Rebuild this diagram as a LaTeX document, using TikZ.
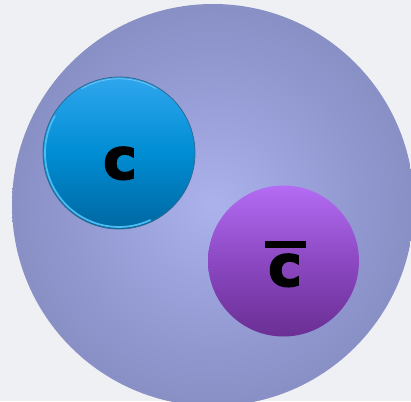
\documentclass[tikz,border=0pt]{standalone}
\usepackage{fontspec}
\newfontfamily\qfont{DejaVu Sans Bold}[FakeBold=2.5]
\usetikzlibrary{calc}
\definecolor{bgcol}{HTML}{EEF0F3}
\definecolor{mesonin}{HTML}{ABB2EC}
\definecolor{mesonmid}{HTML}{9198D0}
\definecolor{mesonout}{HTML}{7B82B3}
\definecolor{bluetop}{HTML}{2FA6EE}
\definecolor{bluemid}{HTML}{008DD3}
\definecolor{bluebot}{HTML}{0067A2}
\definecolor{bluerim}{HTML}{4CBDF2}
\definecolor{blueedge}{HTML}{2E6A94}
\definecolor{purptop}{HTML}{B36CF3}
\definecolor{purpmid}{HTML}{8C48C2}
\definecolor{purpbot}{HTML}{6A2F94}
\pgfdeclareradialshading{mesonglow}{\pgfpoint{0bp}{0bp}}{color(0bp)=(mesonin); color(18bp)=(mesonmid); color(36bp)=(mesonout); color(50bp)=(mesonout)}
\tikzset{
  ball/.style={circle, inner sep=0pt, outer sep=0pt, draw=none},
  qlabel/.style={font=\qfont\fontsize{43}{43}\selectfont, text=black, inner sep=0pt, anchor=base},
}
\begin{document}
\begin{tikzpicture}[x=0.75pt,y=0.75pt]
\useasboundingbox (0,0) rectangle (411,401);
\clip (0,0) rectangle (411,401);
\fill[bgcol] (0,0) rectangle (411,401);
% meson
\node[ball, minimum size=402*0.75pt, shading=mesonglow] (meson) at (213,196) {};
% charm quark
\node[ball, minimum size=152*0.75pt, top color=bluetop, bottom color=bluebot, middle color=bluemid] (q) at (119,248) {};
\draw[bluerim, line width=1.3pt, line cap=round] ([shift={(150:74)}]q.center) arc[start angle=150, end angle=295, radius=74];
\draw[bluetop!70!white, line width=0.7pt, line cap=round] ([shift={(60:74.3)}]q.center) arc[start angle=60, end angle=120, radius=74.3];
\draw[blueedge, line width=0.6pt] (q.center) circle[radius=76];
\node[qlabel] (ql) at (120,222) {c};
% anti-charm
\node[ball, minimum size=151*0.75pt, top color=purptop, bottom color=purpbot, middle color=purpmid] (qbar) at (283.5,140) {};
\node[qlabel] (qbl) at (285,115) {\ooalign{\hidewidth\raisebox{28.5pt}{\rule{30.75pt}{5.25pt}}\hidewidth\cr c\cr}};
\end{tikzpicture}
\end{document}
